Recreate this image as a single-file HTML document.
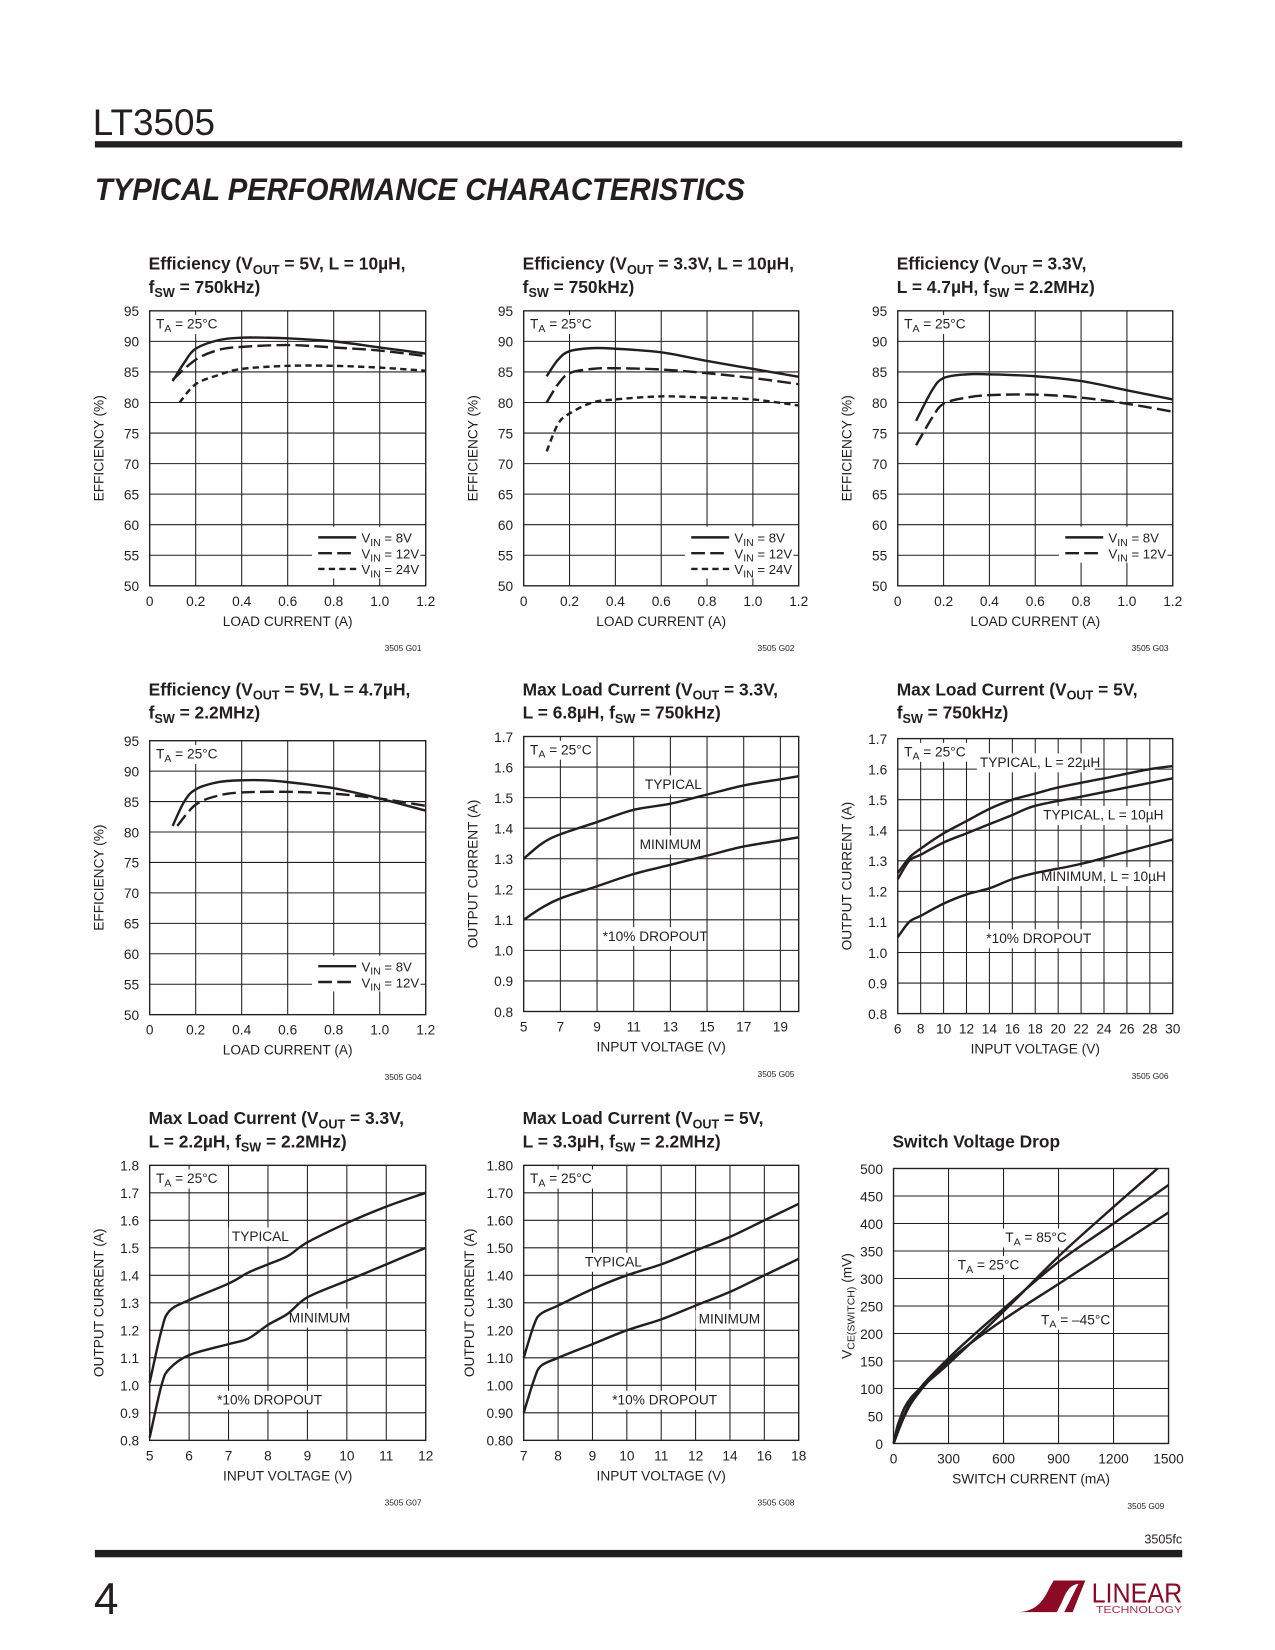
<!DOCTYPE html>
<html><head><meta charset="utf-8"><style>
html,body{margin:0;padding:0;background:#fff}
svg{display:block}
text{font-family:"Liberation Sans Narrow","Liberation Sans",sans-serif;fill:#231f20}
</style></head><body>
<svg id="page" width="1275" height="1650" viewBox="0 0 1210 1566" xmlns="http://www.w3.org/2000/svg">
<text x="88" y="128" font-size="35" style="font-family:'Liberation Sans',sans-serif;font-weight:300">LT3505</text>
<rect x="90" y="134" width="1032" height="6" fill="#231f20"/>
<text x="90" y="190" font-size="30" font-weight="bold" font-style="italic" style="font-family:'Liberation Sans',sans-serif" textLength="617" lengthAdjust="spacingAndGlyphs">TYPICAL PERFORMANCE CHARACTERISTICS</text>
<g id="charts"></g>
<text x="1122" y="1465" font-size="12" text-anchor="end">3505fc</text>
<rect x="90" y="1471" width="1032" height="7" fill="#231f20"/>
<text x="89" y="1532" font-size="42" style="font-family:'Liberation Sans',sans-serif;font-weight:300">4</text>
<g>
<path d="M967,1530 C983,1529 990,1520 996,1507 L1000,1500 L1030,1500 L1026,1503 C1016,1503 1012,1510 1008,1520 L1003,1530 Z" fill="#8b0a25"/>
<path d="M1010,1530 L1022,1506 C1024,1502 1027,1500 1030,1500 L1018,1530 Z" fill="#8b0a25"/>
<text x="1036" y="1521" font-size="26" style="fill:#8b0a25;font-family:'Liberation Sans',sans-serif" textLength="86" lengthAdjust="spacingAndGlyphs">LINEAR</text>
<text x="1040" y="1531" font-size="10" style="fill:#b03050;font-family:'Liberation Sans',sans-serif" textLength="82" lengthAdjust="spacingAndGlyphs">TECHNOLOGY</text>
</g>
</svg>
<script>
// ---- data ----
const c1X8=[0.1,0.15,0.2,0.3,0.4,0.5,0.6,0.8,1.0,1.2];
const c1Y8=[83.5,86.5,88.8,90.2,90.6,90.6,90.5,90,89,88];
const c1X12=[0.1,0.2,0.3,0.4,0.6,0.8,1.0,1.2];
const c1Y12=[83.7,87,88.6,89.1,89.4,89,88.5,87.6];
const c1X24=[0.13,0.2,0.3,0.4,0.6,0.8,1.0,1.2];
const c1Y24=[80,83,84.5,85.5,86,86,85.7,85.2];

const c2X=[0.1,0.15,0.2,0.3,0.4,0.6,0.8,1.0,1.2];
const c2Y8=[84.3,87,88.4,88.9,88.8,88.2,86.8,85.5,84.2];
const c2Y12=[80,83,84.8,85.5,85.6,85.4,84.8,84,83];
const c2Y24=[72,76.5,78.2,80,80.5,81,80.8,80.5,79.5];

const c3X=[0.08,0.15,0.2,0.3,0.4,0.6,0.8,1.0,1.2];
const c3Y8=[77,82,84,84.6,84.6,84.3,83.5,82,80.5];
const c3Y12=[73,77.5,79.8,80.8,81.2,81.3,80.8,79.8,78.5];

const c4X8=[0.1,0.15,0.2,0.3,0.4,0.5,0.6,0.8,1.0,1.2];
const c4Y8=[81,85,87,88.2,88.5,88.5,88.2,87.2,85.5,83.5];
const c4X12=[0.12,0.2,0.3,0.4,0.6,0.8,1.0,1.2];
const c4Y12=[81,84.5,86,86.5,86.6,86.3,85.5,84.3];

const c5X=[5,6,7,9,11,13,15,17,19,20];
const c5Typ=[1.30,1.35,1.38,1.42,1.46,1.48,1.51,1.54,1.56,1.57];
const c5Min=[1.10,1.14,1.17,1.21,1.25,1.28,1.31,1.34,1.36,1.37];

const c6X22=[6,7,8,10,12,14,16,18,20,24,28,30];
const c6Y22=[1.26,1.31,1.34,1.39,1.43,1.47,1.5,1.52,1.54,1.57,1.6,1.61];
const c6X=[6,7,8,10,12,14,16,18,22,26,30];
const c6Y10=[1.24,1.3,1.32,1.36,1.39,1.42,1.45,1.48,1.51,1.54,1.57];
const c6Min=[1.05,1.1,1.12,1.16,1.19,1.21,1.24,1.26,1.29,1.33,1.37];

const c7X=[5,5.3,5.5,6,7,7.5,8,8.5,9,10,11,12];
const c7Typ=[1.01,1.2,1.27,1.31,1.37,1.41,1.44,1.47,1.52,1.59,1.65,1.70];
const c7Min=[0.81,1.0,1.06,1.11,1.15,1.17,1.22,1.26,1.32,1.38,1.44,1.50];

const c8Labels=["7","8","9","10","11","12","14","16","18"];
const c8X=[0,0.3,0.5,1,2,3,4,5,6,7,8];
const c8Typ=[1.10,1.22,1.26,1.29,1.35,1.40,1.44,1.49,1.54,1.60,1.66];
const c8Min=[0.90,1.02,1.07,1.10,1.15,1.20,1.24,1.29,1.34,1.40,1.46];

const c9X85=[0,30,100,300,600,900,1200,1440];
const c9Y85=[0,40,85,145,240,340,430,500];
const c9X=[0,100,300,600,900,1200,1500];
const c9Y25=[0,80,155,245,330,400,470];
const c9Ym45=[0,75,150,225,290,355,420];

const effTicksX=["0","0.2","0.4","0.6","0.8","1.0","1.2"];
const effTicksY=["50","55","60","65","70","75","80","85","90","95"];
const curTicks17=["0.8","0.9","1.0","1.1","1.2","1.3","1.4","1.5","1.6","1.7"];
const c5TicksX=["5","7","9","11","13","15","17","19"];
const c6TicksX=["6","8","10","12","14","16","18","20","22","24","26","28","30"];
const c7TicksX=["5","6","7","8","9","10","11","12"];
const c7TicksY=["0.8","0.9","1.0","1.1","1.2","1.3","1.4","1.5","1.6","1.7","1.8"];
const c8TicksY=["0.80","0.90","1.00","1.10","1.20","1.30","1.40","1.50","1.60","1.70","1.80"];
const c9TicksX=["0","300","600","900","1200","1500"];
const c9TicksY=["0","50","100","150","200","250","300","350","400","450","500"];

// ---- drawing ----
const NS="http://www.w3.org/2000/svg";
const root=document.getElementById('charts');
function el(tag,attrs,parent){const e=document.createElementNS(NS,tag);for(const k in attrs)e.setAttribute(k,attrs[k]);(parent||root).appendChild(e);return e;}
function txt(s,attrs,parent){const e=el('text',attrs,parent);e.innerHTML=s;return e;}
const DASH={solid:null,long:"13,5",short:"6,4"};
function smooth(pts){
  let d='M'+pts[0][0].toFixed(1)+','+pts[0][1].toFixed(1);
  for(let i=0;i<pts.length-1;i++){
    const p0=pts[i-1]||pts[i],p1=pts[i],p2=pts[i+1],p3=pts[i+2]||p2;
    const c1=[p1[0]+(p2[0]-p0[0])/6,p1[1]+(p2[1]-p0[1])/6];
    const c2=[p2[0]-(p3[0]-p1[0])/6,p2[1]-(p3[1]-p1[1])/6];
    d+=' C'+c1.map(v=>v.toFixed(1))+' '+c2.map(v=>v.toFixed(1))+' '+p2.map(v=>v.toFixed(1));
  }
  return d;
}

function chart(c){
  const g=el('g',{});
  
  
  const sx=v=>c.L+(v-c.x0)/(c.x1-c.x0)*(c.R-c.L);
  const sy=v=>c.B-(v-c.y0)/(c.y1-c.y0)*(c.B-c.T);
  c.title.forEach((t,i)=>{const e=txt(t,{x:c.L-1,y:c.titleY+i*22,'font-size':16.5,'font-weight':'bold'},g);});
  const nx=c.xt.length-1+(c.xExtra||0), ny=c.yt.length-1;
  const vx=c.vgrid||nx;
  for(let i=1;i<vx;i++){const x=c.L+i*(c.R-c.L)/vx;const l=el('line',{x1:x,x2:x,y1:c.T,y2:c.B,stroke:'#231f20','stroke-width':1},g);}
  for(let i=1;i<ny;i++){const y=c.B-i*(c.B-c.T)/ny;const l=el('line',{x1:c.L,x2:c.R,y1:y,y2:y,stroke:'#231f20','stroke-width':1},g);}
  const box=el('rect',{x:c.L,y:c.T,width:c.R-c.L,height:c.B-c.T,fill:'none',stroke:'#231f20','stroke-width':1.3},g);
  
  const sp=(c.R-c.L)/nx;
  c.xt.forEach((t,i)=>{const e=txt(t,{x:c.L+i*sp,y:c.B+19,'font-size':13,'text-anchor':'middle'},g);});
  c.yt.forEach((t,i)=>{const e=txt(t,{x:c.L-10,y:c.B-i*(c.B-c.T)/ny+5,'font-size':13,'text-anchor':'end'},g);});
  const xa=txt(c.xlabel,{x:(c.L+c.R)/2,y:c.B+38,'font-size':13,'text-anchor':'middle'},g);
  
  const ya=txt(c.ylabel,{x:0,y:0,'font-size':13,'text-anchor':'middle',transform:`translate(${c.L-c.yoff},${(c.T+c.B)/2}) rotate(-90)`},g);
  
  const fig=txt(c.fig,{x:c.R-4,y:c.B+62,'font-size':8,'text-anchor':'end'},g);
  
  // annotation backgrounds first
  (c.notes||[]).forEach(n=>{
    if(n.bg){const r=el('rect',{x:c.L+n.x-3,y:c.T+n.y-13,width:n.bg,height:18,fill:'#fff'},g);}
  });
  c.series.forEach(s=>{
    const pts=s.xs.map((x,i)=>[sx(x),sy(s.ys[i])]);
    const a={d:smooth(pts),fill:'none',stroke:'#231f20','stroke-width':2.3,'stroke-linejoin':'round'};
    if(DASH[s.dash])a['stroke-dasharray']=DASH[s.dash];
    const p=el('path',a,g);
  });
  if(c.legend){
    const lx=c.R-102, ly=c.B-46;
    const bg=el('rect',{x:lx-6,y:ly-10,width:103,height:c.legend.length*15+4,fill:'#fff'},g);
    
    c.legend.forEach((l,i)=>{
      const y=ly+i*15;
      const a={x1:lx,x2:lx+36,y1:y,y2:y,stroke:'#231f20','stroke-width':2.3};
      if(DASH[l[1]])a['stroke-dasharray']=DASH[l[1]];
      const ln=el('line',a,g);
      const t=txt(l[0],{x:lx+41,y:y+5,'font-size':12.5},g);
    });
  }
  (c.notes||[]).forEach(n=>{
    const t=txt(n.t,{x:c.L+n.x,y:c.T+n.y,'font-size':13},g);
  });
}
const TA='T<tspan font-size="10" dy="3">A</tspan><tspan dy="-3"> = 25°C</tspan>';
const VIN=v=>'V<tspan font-size="10" dy="3">IN</tspan><tspan dy="-3"> = '+v+'</tspan>';
const VOUT='V<tspan font-size="12" dy="4">OUT</tspan><tspan dy="-4">';
const FSW='f<tspan font-size="12" dy="4">SW</tspan><tspan dy="-4">';
const eff={x0:0,x1:1.2,y0:50,y1:95,xt:effTicksX,yt:effTicksY,xlabel:'LOAD CURRENT (A)',ylabel:'EFFICIENCY (%)',yoff:44};
const taNote={t:TA,x:6,y:17,bg:64};

chart(Object.assign({},eff,{name:'chart-efficiency-5v-10uh',L:142,R:404,T:295,B:556,titleY:256,fig:'3505 G01',
  title:['Efficiency ('+VOUT+' = 5V, L = 10µH,</tspan>',FSW+' = 750kHz)</tspan>'],
  series:[{name:'series-vin-8v',xs:c1X8,ys:c1Y8,dash:'solid'},{name:'series-vin-12v',xs:c1X12,ys:c1Y12,dash:'long'},{name:'series-vin-24v',xs:c1X24,ys:c1Y24,dash:'short'}],
  legend:[[VIN('8V'),'solid'],[VIN('12V'),'long'],[VIN('24V'),'short']],notes:[taNote]}));
chart(Object.assign({},eff,{name:'chart-efficiency-3v3-10uh',L:497,R:758,T:295,B:556,titleY:256,fig:'3505 G02',
  title:['Efficiency ('+VOUT+' = 3.3V, L = 10µH,</tspan>',FSW+' = 750kHz)</tspan>'],
  series:[{name:'series-vin-8v',xs:c2X,ys:c2Y8,dash:'solid'},{name:'series-vin-12v',xs:c2X,ys:c2Y12,dash:'long'},{name:'series-vin-24v',xs:c2X,ys:c2Y24,dash:'short'}],
  legend:[[VIN('8V'),'solid'],[VIN('12V'),'long'],[VIN('24V'),'short']],notes:[taNote]}));
chart(Object.assign({},eff,{name:'chart-efficiency-3v3-4u7h',L:852,R:1113,T:295,B:556,titleY:256,fig:'3505 G03',
  title:['Efficiency ('+VOUT+' = 3.3V,</tspan>','L = 4.7µH, '+FSW+' = 2.2MHz)</tspan>'],
  series:[{name:'series-vin-8v',xs:c3X,ys:c3Y8,dash:'solid'},{name:'series-vin-12v',xs:c3X,ys:c3Y12,dash:'long'}],
  legend:[[VIN('8V'),'solid'],[VIN('12V'),'long']],notes:[taNote]}));
chart(Object.assign({},eff,{name:'chart-efficiency-5v-4u7h',L:142,R:404,T:703,B:963,titleY:660,fig:'3505 G04',
  title:['Efficiency ('+VOUT+' = 5V, L = 4.7µH,</tspan>',FSW+' = 2.2MHz)</tspan>'],
  series:[{name:'series-vin-8v',xs:c4X8,ys:c4Y8,dash:'solid'},{name:'series-vin-12v',xs:c4X12,ys:c4Y12,dash:'long'}],
  legend:[[VIN('8V'),'solid'],[VIN('12V'),'long']],notes:[taNote]}));
chart({name:'chart-max-load-3v3-6u8h',L:497,R:758,T:699,B:960,titleY:660,fig:'3505 G05',x0:5,x1:20,y0:0.8,y1:1.7,
  xt:c5TicksX,xExtra:0.5,vgrid:7.5,yt:curTicks17,xlabel:'INPUT VOLTAGE (V)',ylabel:'OUTPUT CURRENT (A)',yoff:44,
  title:['Max Load Current ('+VOUT+' = 3.3V,</tspan>','L = 6.8µH, '+FSW+' = 750kHz)</tspan>'],
  series:[{name:'series-typical',xs:c5X,ys:c5Typ,dash:'solid'},{name:'series-minimum',xs:c5X,ys:c5Min,dash:'solid'}],
  notes:[taNote,{t:'TYPICAL',x:115,y:50,bg:58},{t:'MINIMUM',x:110,y:107,bg:62},{t:'*10% DROPOUT',x:75,y:194,bg:96}]});
chart({name:'chart-max-load-5v-750khz',L:852,R:1113,T:701,B:962,titleY:660,fig:'3505 G06',x0:6,x1:30,y0:0.8,y1:1.7,
  xt:c6TicksX,yt:curTicks17,xlabel:'INPUT VOLTAGE (V)',ylabel:'OUTPUT CURRENT (A)',yoff:44,
  title:['Max Load Current ('+VOUT+' = 5V,</tspan>',FSW+' = 750kHz)</tspan>'],
  series:[{name:'series-typical-22uh',xs:c6X22,ys:c6Y22,dash:'solid'},{name:'series-typical-10uh',xs:c6X,ys:c6Y10,dash:'solid'},{name:'series-minimum-10uh',xs:c6X,ys:c6Min,dash:'solid'}],
  notes:[{t:TA,x:6,y:17,bg:64},{t:'TYPICAL, L = 22µH',x:78,y:27,bg:112},{t:'TYPICAL, L = 10µH',x:138,y:77,bg:112},{t:'MINIMUM, L = 10µH',x:136,y:135,bg:118},{t:'*10% DROPOUT',x:84,y:194,bg:96}]});
chart({name:'chart-max-load-3v3-2u2h',L:142,R:404,T:1106,B:1367,titleY:1067,fig:'3505 G07',x0:5,x1:12,y0:0.8,y1:1.8,
  xt:c7TicksX,yt:c7TicksY,xlabel:'INPUT VOLTAGE (V)',ylabel:'OUTPUT CURRENT (A)',yoff:44,
  title:['Max Load Current ('+VOUT+' = 3.3V,</tspan>','L = 2.2µH, '+FSW+' = 2.2MHz)</tspan>'],
  series:[{name:'series-typical',xs:c7X,ys:c7Typ,dash:'solid'},{name:'series-minimum',xs:c7X,ys:c7Min,dash:'solid'}],
  notes:[taNote,{t:'TYPICAL',x:78,y:72,bg:58},{t:'MINIMUM',x:132,y:149,bg:62},{t:'*10% DROPOUT',x:64,y:227,bg:96}]});
chart({name:'chart-max-load-5v-3u3h',L:497,R:758,T:1106,B:1367,titleY:1067,fig:'3505 G08',x0:0,x1:8,y0:0.8,y1:1.8,
  xt:c8Labels,yt:c8TicksY,xlabel:'INPUT VOLTAGE (V)',ylabel:'OUTPUT CURRENT (A)',yoff:47,
  title:['Max Load Current ('+VOUT+' = 5V,</tspan>','L = 3.3µH, '+FSW+' = 2.2MHz)</tspan>'],
  series:[{name:'series-typical',xs:c8X,ys:c8Typ,dash:'solid'},{name:'series-minimum',xs:c8X,ys:c8Min,dash:'solid'}],
  notes:[taNote,{t:'TYPICAL',x:58,y:96,bg:58},{t:'MINIMUM',x:166,y:150,bg:62},{t:'*10% DROPOUT',x:84,y:227,bg:96}]});
chart({name:'chart-switch-voltage-drop',L:848,R:1109,T:1109,B:1370,titleY:1089,fig:'3505 G09',x0:0,x1:1500,y0:0,y1:500,
  xt:c9TicksX,yt:c9TicksY,xlabel:'SWITCH CURRENT (mA)',ylabel:'V<tspan font-size="10" dy="3">CE(SWITCH)</tspan><tspan dy="-3"> (mV)</tspan>',yoff:40,
  title:['Switch Voltage Drop'],
  series:[{name:'series-ta-85c',xs:c9X85,ys:c9Y85,dash:'solid'},{name:'series-ta-25c',xs:c9X,ys:c9Y25,dash:'solid'},{name:'series-ta-minus45c',xs:c9X,ys:c9Ym45,dash:'solid'}],
  notes:[{t:'T<tspan font-size="10" dy="3">A</tspan><tspan dy="-3"> = 85°C</tspan>',x:106,y:70,bg:60},{t:'T<tspan font-size="10" dy="3">A</tspan><tspan dy="-3"> = 25°C</tspan>',x:61,y:96,bg:60},{t:'T<tspan font-size="10" dy="3">A</tspan><tspan dy="-3"> = –45°C</tspan>',x:140,y:148,bg:66}]});
</script>
</body></html>
